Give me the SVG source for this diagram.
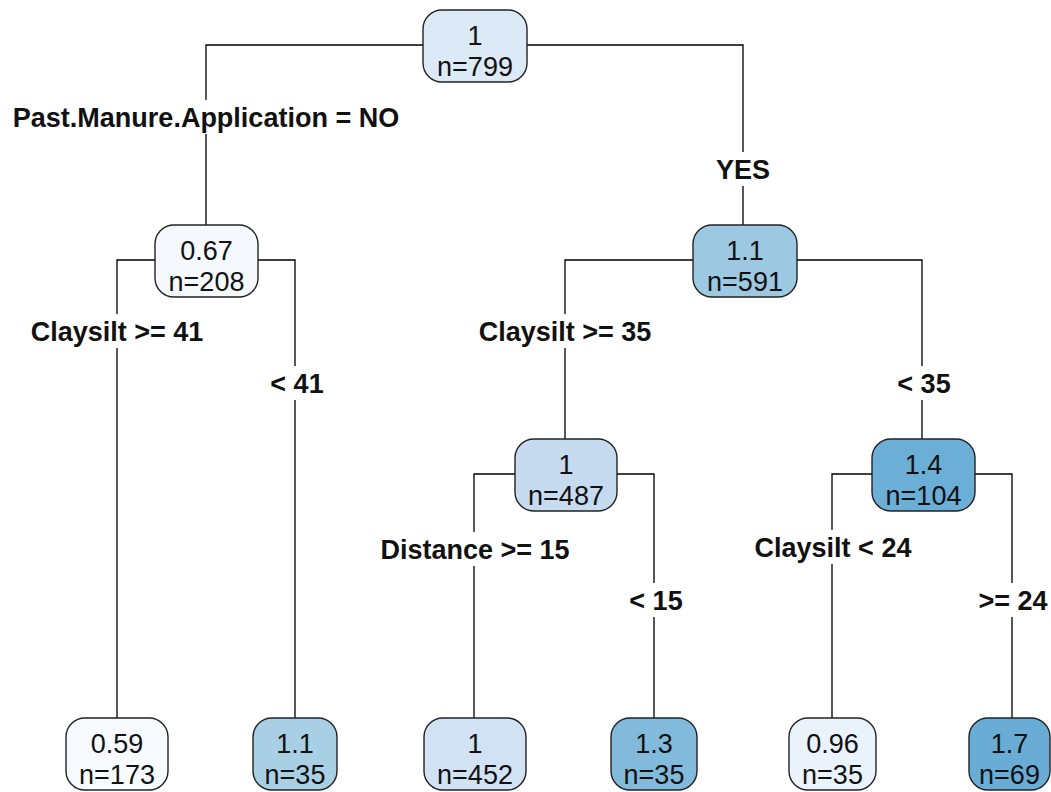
<svg xmlns="http://www.w3.org/2000/svg" width="1051" height="792" viewBox="0 0 1051 792">
<style>
.e{stroke:#000;stroke-width:1.3;fill:none}
.n{stroke:#222;stroke-width:1.4}
.t{font-family:"Liberation Sans",Arial,sans-serif;font-size:27px;fill:#111;text-anchor:middle}
.l{font-family:"Liberation Sans",Arial,sans-serif;font-size:27px;font-weight:bold;fill:#111;text-anchor:middle}
.bg{fill:#fff}
</style>
<rect width="1051" height="792" fill="#fff"/>
<g id="connectors">
<path class="e" d="M206,225V45H423M527,45H743V225"/>
<path class="e" d="M155,260H117V718M258,260H295V718"/>
<path class="e" d="M693,260H565V439M797,260H922V439"/>
<path class="e" d="M515,474H474V718M617,474H654V718"/>
<path class="e" d="M872,474H832V718M975,474H1012V718"/>
</g>
<g id="labels">
<rect class="bg" x="8" y="100" width="396" height="34"/>
<text class="l" x="206" y="127">Past.Manure.Application = NO</text>
<rect class="bg" x="713" y="152" width="60" height="34"/>
<text class="l" x="743" y="179">YES</text>
<rect class="bg" x="28" y="314" width="178" height="34"/>
<text class="l" x="117" y="341">Claysilt &gt;= 41</text>
<rect class="bg" x="266" y="366" width="60" height="34"/>
<text class="l" x="297" y="393">&lt; 41</text>
<rect class="bg" x="476" y="314" width="178" height="34"/>
<text class="l" x="565" y="341">Claysilt &gt;= 35</text>
<rect class="bg" x="893" y="366" width="60" height="34"/>
<text class="l" x="924" y="393">&lt; 35</text>
<rect class="bg" x="377" y="532" width="196" height="34"/>
<text class="l" x="475" y="559">Distance &gt;= 15</text>
<rect class="bg" x="626" y="583" width="60" height="34"/>
<text class="l" x="656" y="610">&lt; 15</text>
<rect class="bg" x="751" y="530" width="164" height="34"/>
<text class="l" x="833" y="557">Claysilt &lt; 24</text>
<rect class="bg" x="976" y="583" width="75" height="34"/>
<text class="l" x="1013" y="610">&gt;= 24</text>
</g>
<g id="node1"><rect class="n" x="423" y="10" width="104" height="72" rx="19" fill="#dce9f6"/><text class="t" x="475" y="45">1</text><text class="t" x="475" y="76">n=799</text></g>
<g id="node2"><rect class="n" x="155" y="225" width="103" height="72" rx="19" fill="#f5f9fe"/><text class="t" x="206.5" y="260">0.67</text><text class="t" x="206.5" y="291">n=208</text></g>
<g id="node3"><rect class="n" x="693" y="225" width="104" height="72" rx="19" fill="#9dc8e2"/><text class="t" x="745" y="260">1.1</text><text class="t" x="745" y="291">n=591</text></g>
<g id="node6"><rect class="n" x="515" y="439" width="102" height="72" rx="19" fill="#c6dbef"/><text class="t" x="566" y="474">1</text><text class="t" x="566" y="505">n=487</text></g>
<g id="node7"><rect class="n" x="872" y="439" width="103" height="72" rx="19" fill="#6baed6"/><text class="t" x="923.5" y="474">1.4</text><text class="t" x="923.5" y="505">n=104</text></g>
<g id="leaf4"><rect class="n" x="66" y="718" width="102" height="72" rx="19" fill="#f7fbff"/><text class="t" x="117" y="753">0.59</text><text class="t" x="117" y="784">n=173</text></g>
<g id="leaf5"><rect class="n" x="253" y="718" width="84" height="72" rx="19" fill="#a9cfe5"/><text class="t" x="295" y="753">1.1</text><text class="t" x="295" y="784">n=35</text></g>
<g id="leaf12"><rect class="n" x="424" y="718" width="102" height="72" rx="19" fill="#d0e2f3"/><text class="t" x="475" y="753">1</text><text class="t" x="475" y="784">n=452</text></g>
<g id="leaf13"><rect class="n" x="611" y="718" width="86" height="72" rx="19" fill="#82badb"/><text class="t" x="654" y="753">1.3</text><text class="t" x="654" y="784">n=35</text></g>
<g id="leaf14"><rect class="n" x="789" y="718" width="87" height="72" rx="19" fill="#eaf2fb"/><text class="t" x="832.5" y="753">0.96</text><text class="t" x="832.5" y="784">n=35</text></g>
<g id="leaf15"><rect class="n" x="969" y="718" width="81" height="72" rx="19" fill="#69acd5"/><text class="t" x="1009.5" y="753">1.7</text><text class="t" x="1009.5" y="784">n=69</text></g>
</svg>
